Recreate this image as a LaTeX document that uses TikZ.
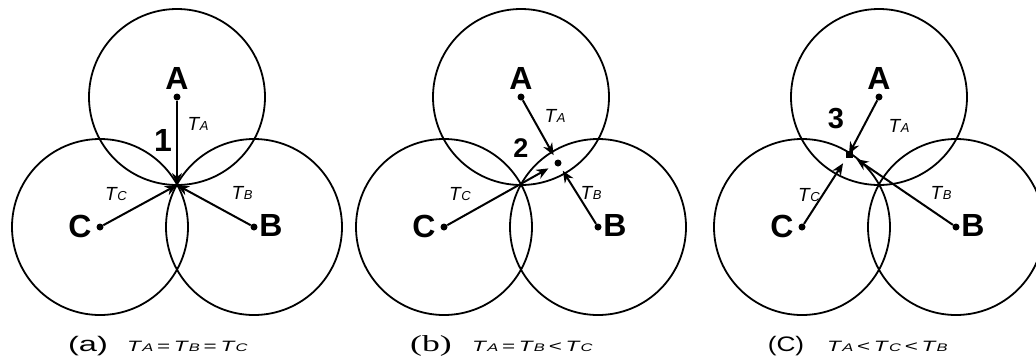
\documentclass[tikz,border=0pt]{standalone}
\usepackage{graphicx}
\usepackage{fontspec}
\setmainfont{Liberation Sans}
\newfontfamily\serifcap{Liberation Serif}
\usetikzlibrary{arrows.meta}
\newcommand\Tsub[1]{\textit{T}\kern-0.5pt{\fontsize{13}{13}\selectfont\textit{#1}}}
\newcommand\Tcap[1]{\textit{T}{\fontsize{11}{11}\selectfont\textit{#1}}}
\newcommand\rel[1]{\kern2.5pt#1\kern2.5pt}
\newcommand\capline[1]{\scalebox{1.5}[1]{\fontsize{15}{15}\selectfont #1}}
\tikzset{
  ring/.style={draw, line width=1.8pt},
  site/.style={circle, fill, inner sep=0pt, minimum size=7pt},
  lab/.style={font=\bfseries\fontsize{32}{32}\selectfont, inner sep=0pt},
  num/.style={font=\bfseries\fontsize{32}{32}\selectfont, inner sep=0pt},
  tl/.style={font=\fontsize{19}{19}\selectfont, inner sep=0pt},
  ray/.style={line width=2pt, -{Stealth[length=12pt,width=10pt]}},
  capstyle/.style={inner sep=0pt, anchor=base},
  captext/.style={inner sep=0pt, anchor=base west},
}
\begin{document}
\begin{tikzpicture}[x=1pt,y=-1pt]
\useasboundingbox (0,0) rectangle (1036,360);
% ---------- panel (a)
\begin{scope}[shift={(177,97)}]
  \node[site] (aA) at (0,0) {};
  \node[site] (aB) at (77,130) {};
  \node[site] (aC) at (-77,130) {};
  \coordinate (aP) at (0,88);
  \draw[ring] (aA.center) circle (88);
  \draw[ring] (aB.center) circle (88);
  \draw[ring] (aC.center) circle (88);
  \draw[ray] (aA) -- (aP);
  \draw[ray] (aB) -- (aP);
  \draw[ray] (aC) -- (aP);
  \node[lab] (aAl) at (0,-19) {A};
  \node[lab] (aBl) at (94,128) {B};
  \node[lab] (aCl) at (-97,129) {C};
  \node[num] (an) at (-14,43) {1};
  \node[tl] (aTA) at (21,27) {\Tsub{A}};
  \node[tl] (aTB) at (65,96) {\Tsub{B}};
  \node[tl] (aTC) at (-61,97) {\Tsub{C}};
\end{scope}
% ---------- panel (b)
\begin{scope}[shift={(521,97)}]
  \node[site] (bA) at (0,0) {};
  \node[site] (bB) at (77,130) {};
  \node[site] (bC) at (-77,130) {};
  \node[site] (bP) at (37,66) {};
  \draw[ring] (bA.center) circle (88);
  \draw[ring] (bB.center) circle (88);
  \draw[ring] (bC.center) circle (88);
  \draw[ray, shorten >=9pt] (bA) -- (bP.center);
  \draw[ray, shorten >=9pt] (bB) -- (bP.center);
  \draw[ray, shorten >=11pt] (bC) -- (bP.center);
  \node[lab] (bAl) at (0,-19) {A};
  \node[lab] (bBl) at (94,128) {B};
  \node[lab] (bCl) at (-97,129) {C};
  \node[num, font=\bfseries\fontsize{27}{27}\selectfont] (bn) at (0,51) {2};
  \node[tl] (bTA) at (34,19) {\Tsub{A}};
  \node[tl] (bTB) at (70,96) {\Tsub{B}};
  \node[tl] (bTC) at (-61,97) {\Tsub{C}};
\end{scope}
% ---------- panel (c)
\begin{scope}[shift={(879,97)}]
  \node[site] (cA) at (0,0) {};
  \node[site] (cB) at (77,130) {};
  \node[site] (cC) at (-77,130) {};
  \node[fill, inner sep=0pt, minimum size=7pt] (cP) at (-30,57) {};
  \draw[ring] (cA.center) circle (88);
  \draw[ring] (cB.center) circle (88);
  \draw[ring] (cC.center) circle (88);
  \draw[ray] (cA) -- (cP.center);
  \draw[ray, shorten >=9pt] (cB) -- (cP.center);
  \draw[ray, shorten >=11pt] (cC) -- (cP.center);
  \node[lab] (cAl) at (0,-19) {A};
  \node[lab] (cBl) at (94,128) {B};
  \node[lab] (cCl) at (-97,129) {C};
  \node[num, font=\bfseries\fontsize{29}{29}\selectfont] (cn) at (-43,22) {3};
  \node[tl] (cTA) at (20,29) {\Tsub{A}};
  \node[tl] (cTB) at (62,96) {\Tsub{B}};
  \node[tl] (cTC) at (-70,98) {\Tsub{C}};
\end{scope}
% ---------- captions
\node[capstyle] (capa) at (88,351) {\scalebox{1.55}[1]{\fontsize{21}{21}\selectfont (a)}};
\node[captext] (capat) at (127,351) {\capline{\Tcap{A}\rel{=}\Tcap{B}\rel{=}\Tcap{C}}};
\node[capstyle] (capb) at (431,351) {\scalebox{1.55}[1]{\serifcap\fontsize{23}{23}\selectfont (b)}};
\node[captext] (capbt) at (472,351) {\capline{\Tcap{A}\rel{=}\Tcap{B}\rel{<}\Tcap{C}}};
\node[capstyle] (capc) at (786,351) {\scalebox{1.25}[1]{\fontsize{21}{21}\selectfont (C)}};
\node[captext] (capct) at (827,351) {\capline{\Tcap{A}\rel{<}\Tcap{C}\rel{<}\Tcap{B}}};
\end{tikzpicture}
\end{document}
